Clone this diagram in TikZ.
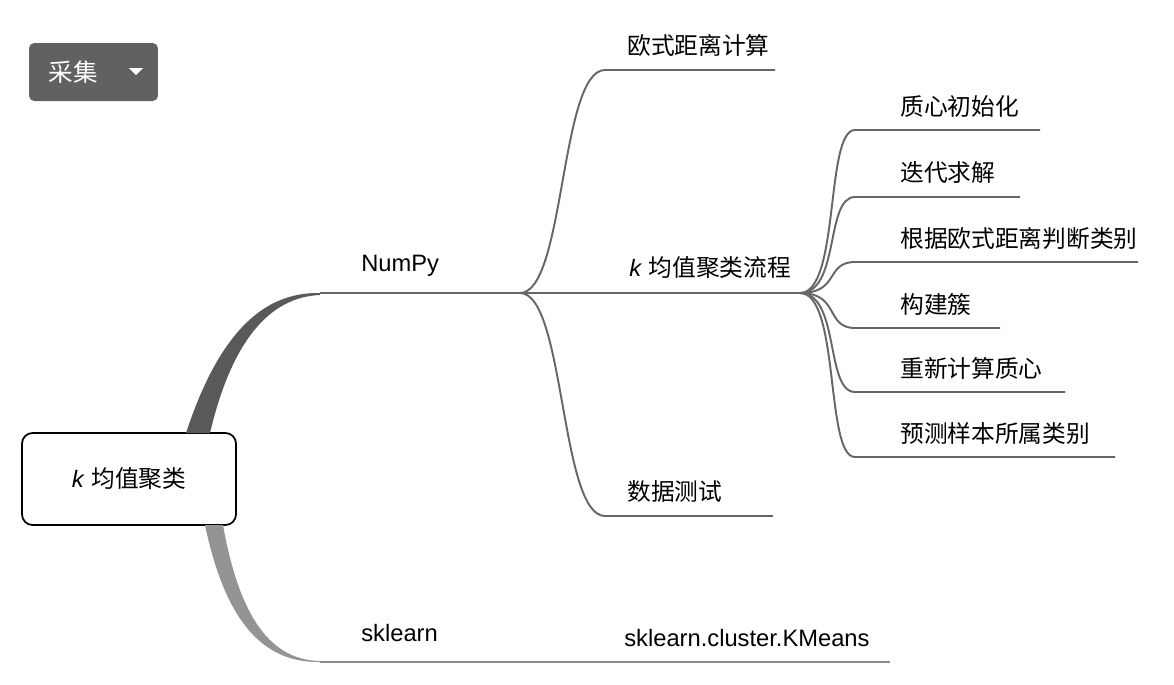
\documentclass[tikz,border=0pt]{standalone}
\usepackage{fontspec}
\setmainfont{Liberation Sans}
\newfontfamily\cjk{Noto Sans CJK SC}
\begin{document}
\begin{tikzpicture}[x=0.02cm,y=-0.02cm,
  ln/.style={draw=black!60,line width=1.1pt},
  lbl/.style={anchor=west,font=\fontsize{13.5}{15}\selectfont,inner sep=0pt},
  lblc/.style={font=\fontsize{13.5}{15}\selectfont,inner sep=0pt}]
\useasboundingbox (0,0) rectangle (1174,684);
% button
\node[fill=black!62,rounded corners=3pt,minimum width=2.58cm,minimum height=1.16cm] (btn) at (93.5,72) {};
\node[text=white,font=\fontsize{14}{16}\selectfont\cjk,inner sep=0pt] (btnt) at (73,72) {采集};
\fill[white] (129,68) -- (143,68) -- (136,75) -- cycle;
% root
\node[draw=black,line width=1pt,rounded corners=6pt,minimum width=4.28cm,minimum height=1.84cm,lblc] (root) at (129,479) {\textit{k} {\cjk 均值聚类}};
% coordinates
\coordinate (np) at (320,293);
\coordinate (npe) at (520,293);
\coordinate (sk) at (320,662);
\coordinate (ske) at (890,662);
\fill[black!65] (186,433) .. controls (220,330) and (265,292) .. (np) -- (320,295) .. controls (270,297) and (232,340) .. (210,433) -- cycle;
\fill[black!42] (205,525) .. controls (225,620) and (262,663) .. (sk) -- (320,661) .. controls (272,660) and (240,620) .. (223,525) -- cycle;
\draw[ln] (np) -- (npe);
\draw[ln,draw=black!45] (sk) -- (ske);
\node[lbl] (lnp) at (361,266) {NumPy};
\node[lbl] (lsk) at (361,633) {sklearn};
\node[lbl] (lkm) at (624,638) {sklearn.cluster.KMeans};
% level 2
\coordinate (a1) at (605,70); \coordinate (a1e) at (775,70);
\coordinate (a2e) at (800,293);
\coordinate (a3) at (605,516); \coordinate (a3e) at (773,516);
\draw[ln] (npe) .. controls (565,293) and (560,70) .. (a1) -- (a1e);
\draw[ln] (npe) -- (a2e);
\draw[ln] (npe) .. controls (565,293) and (560,516) .. (a3) -- (a3e);
\node[lbl] (t1) at (627,45) {\cjk 欧式距离计算};
\node[lbl] (t2) at (629,268) {\textit{k} {\cjk 均值聚类流程}};
\node[lbl] (t3) at (627,492) {\cjk 数据测试};
% level 3
\foreach \y/\e/\t [count=\i] in {130/1040/质心初始化,197/1020/迭代求解,262/1138/根据欧式距离判断类别,328/1000/构建簇,392/1065/重新计算质心,457/1115/预测样本所属类别}{
  \coordinate (c\i) at (855,\y);
  \coordinate (ce\i) at (\e,\y);
  \draw[ln] (a2e) .. controls (840,293) and (825,\y) .. (c\i) -- (ce\i);
  \node[lbl] (tc\i) at (900,\y-24) {\cjk \t};
}
\end{tikzpicture}
\end{document}
